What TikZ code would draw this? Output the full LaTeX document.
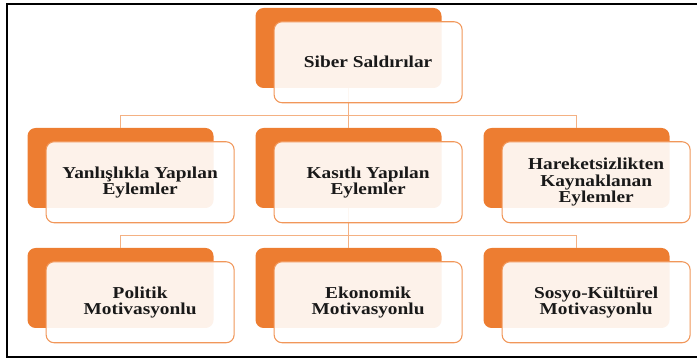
\documentclass[tikz,border=0pt]{standalone}
\usepackage{fontspec}
\setmainfont{Liberation Serif}[BoldFont={Liberation Serif Bold}, FakeStretch=1.16]
\usetikzlibrary{positioning}

\definecolor{darkorange}{HTML}{ED7D31}
\definecolor{lightorange}{HTML}{F4B183}

\tikzstyle{b} = [rectangle, fill=darkorange, rounded corners=6pt, minimum width=139.5pt, minimum height=60pt, inner sep=0pt]
\tikzstyle{f} = [align=center, rectangle, draw=darkorange!80, line width=0.8pt, fill=white, fill opacity=0.9, text opacity=1, text=black!90, text centered, rounded corners=6pt, minimum width=141pt, minimum height=60.75pt, xshift=14.7pt, yshift=-10.7pt, font=\bfseries\fontsize{12.5pt}{12.3pt}\selectfont]
\tikzstyle{l} = [draw=lightorange, line width=1.1pt]

\begin{document}
\begin{tikzpicture}[auto]
\useasboundingbox (0,0) rectangle (522.75pt,-269.25pt);
\draw [line width=1.5pt] (522.75pt,-3pt) -- (5.25pt,-3pt) -- (5.25pt,-267.75pt) -- (522.75pt,-267.75pt);
% back boxes
\node [b] (sb) at (261.4pt,-36pt) {};
\node [b, below of=sb, node distance=90pt] (kb) {};
\node [b, left of=kb, node distance=171pt] (yb) {};
\node [b, right of=kb, node distance=171pt] (hb) {};
\node [b, below of=kb, node distance=90pt] (eb) {};
\node [b, left of=eb, node distance=171pt] (pb) {};
\node [b, right of=eb, node distance=171pt] (mb) {};
% connectors
\draw [l] (sb.south) -- (kb.north);
\draw [l] (sb.south) -- ++(0,-20.25pt) -| (yb.north);
\draw [l] (sb.south) -- ++(0,-20.25pt) -| (hb.north);
\draw [l] (kb.south) -- (eb.north);
\draw [l] (kb.south) -- ++(0,-20.25pt) -| (pb.north);
\draw [l] (kb.south) -- ++(0,-20.25pt) -| (mb.north);
% front boxes
\node [f] (s) at (sb) {Siber Saldırılar};
\node [f] (y) at (yb) {Yanlışlıkla Yapılan\\Eylemler};
\node [f] (k) at (kb) {Kasıtlı Yapılan\\Eylemler};
\node [f] (h) at (hb) {Hareketsizlikten\\Kaynaklanan\\Eylemler};
\node [f] (p) at (pb) {Politik\\Motivasyonlu};
\node [f] (e) at (eb) {Ekonomik\\Motivasyonlu};
\node [f] (m) at (mb) {Sosyo-Kültürel\\Motivasyonlu};
\end{tikzpicture}
\end{document}
